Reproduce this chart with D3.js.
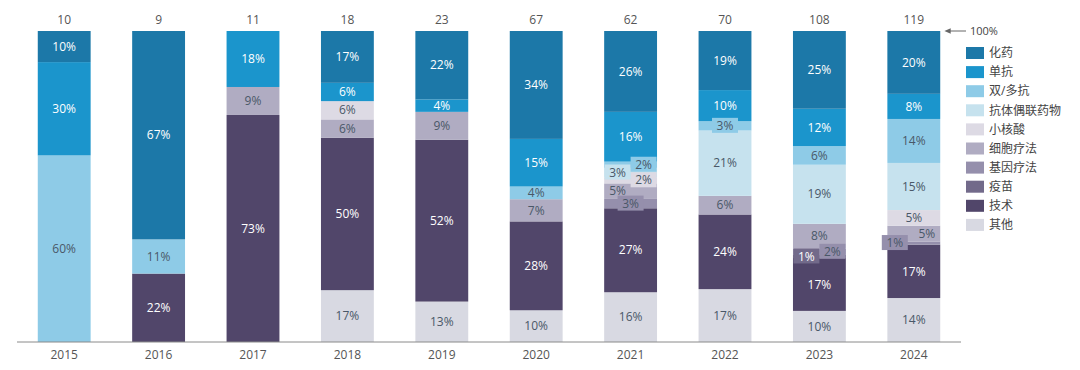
<!DOCTYPE html>
<html>
<head>
<meta charset="utf-8">
<script src="https://cdn.jsdelivr.net/npm/d3@7"></script>
<style>
  body { margin: 0; background: #fff; }
  svg text { font-family: "Open Sans", "Noto Sans CJK SC", sans-serif; }
</style>
</head>
<body>
<svg id="chart" width="1080" height="370"></svg>
<script>
// Data
const years = ['2015', '2016', '2017', '2018', '2019', '2020', '2021', '2022', '2023', '2024'];
const totals = [10, 9, 11, 18, 23, 67, 62, 70, 108, 119];
const seriesNames = ['化药', '单抗', '双/多抗', '抗体偶联药物', '小核酸', '细胞疗法', '基因疗法', '疫苗', '技术', '其他'];

const huaYao     = [10, 67, 0, 17, 22, 34, 26, 19, 25, 20];
const danKang    = [30, 0, 18, 6, 4, 15, 16, 10, 12, 8];
const shuangKang = [60, 11, 0, 0, 0, 4, 2, 3, 6, 14];
const adc        = [0, 0, 0, 0, 0, 0, 3, 21, 19, 15];
const xiaoHeSuan = [0, 0, 0, 6, 0, 0, 2, 0, 0, 5];
const xiBao      = [0, 0, 9, 6, 9, 7, 5, 6, 8, 5];
const jiYin      = [0, 0, 0, 0, 0, 0, 3, 0, 2, 1];
const yiMiao     = [0, 0, 0, 0, 0, 0, 0, 0, 1, 0];
const jiShu      = [0, 22, 73, 50, 52, 28, 27, 24, 17, 17];
const qiTa       = [0, 0, 0, 17, 13, 10, 16, 17, 10, 14];

const seriesValues = [huaYao, danKang, shuangKang, adc, xiaoHeSuan, xiBao, jiYin, yiMiao, jiShu, qiTa];

// Styles
const colors = ['#1c78a8', '#1b95cc', '#8ecbe7', '#c6e2ee', '#dddae4', '#b0acc2', '#958fac', '#726a8a', '#51466a', '#d8d9e2'];
const whiteText = new Set(['化药', '单抗', '疫苗', '技术']);
const darkText = '#4a5868';

// small labels pushed sideways so they don't overlap
const labelShift = {
    '2021|双/多抗': 13, '2021|抗体偶联药物': -13, '2021|小核酸': 13, '2021|细胞疗法': -13,
    '2023|基因疗法': 13, '2023|疫苗': -13,
    '2024|细胞疗法': 13, '2024|基因疗法': -19
};

const rows = years.map((y, i) => {
    const r = { year: y };
    seriesNames.forEach((s, j) => { r[s] = seriesValues[j][i]; });
    return r;
});

const svg = d3.select('#chart');

const x = d3.scaleBand()
    .domain(years)
    .range([17, 961])
    .paddingInner(0.44)
    .paddingOuter(0.22);

const y = d3.scaleLinear().domain([0, 1]).range([342, 31]);

const color = d3.scaleOrdinal().domain(seriesNames).range(colors);

// stack bottom-up: 其他 first, 化药 last; normalised to 100%
const stack = d3.stack()
    .keys(seriesNames.slice().reverse())
    .offset(d3.stackOffsetExpand);
const stacked = stack(rows);

// Bars
const layers = svg.append('g')
    .selectAll('g')
    .data(stacked)
    .enter().append('g')
    .attr('fill', d => color(d.key));

layers.selectAll('rect')
    .data(d => d.map(p => ({ key: d.key, year: p.data.year, y0: p[0], y1: p[1], v: p.data[d.key] })))
    .enter().append('rect')
    .filter(d => d.v > 0)
    .attr('x', d => x(d.year))
    .attr('width', x.bandwidth())
    .attr('y', d => y(d.y1))
    .attr('height', d => y(d.y0) - y(d.y1));

// Segment labels
const labels = [];
stacked.forEach(layer => {
    layer.forEach(p => {
        const v = p.data[layer.key];
        if (v > 0) labels.push({ key: layer.key, year: p.data.year, v: v, ym: (p[0] + p[1]) / 2 });
    });
});

const lab = svg.append('g')
    .selectAll('g')
    .data(labels)
    .enter().append('g')
    .attr('transform', d => {
        const dx = labelShift[d.year + '|' + d.key] || 0;
        return `translate(${x(d.year) + x.bandwidth() / 2 + dx},${y(d.ym)})`;
    });

lab.filter(d => d.v <= 3)
    .append('rect')
    .attr('x', -13)
    .attr('y', -8)
    .attr('width', 26)
    .attr('height', 15)
    .attr('fill', d => color(d.key));

lab.append('text')
    .text(d => d.v + '%')
    .attr('text-anchor', 'middle')
    .attr('dy', '0.35em')
    .attr('font-size', '12px')
    .attr('fill', d => whiteText.has(d.key) ? '#fff' : darkText);

// Baseline axis with year labels
const axis = svg.append('g').attr('transform', 'translate(0,342)');
axis.append('line')
    .attr('x1', 17).attr('x2', 961)
    .attr('stroke', '#8a8a8a').attr('stroke-width', 1);
axis.selectAll('text')
    .data(years)
    .enter().append('text')
    .attr('x', d => x(d) + x.bandwidth() / 2)
    .attr('y', 17)
    .attr('text-anchor', 'middle')
    .attr('font-size', '12px')
    .attr('fill', '#555')
    .text(d => d);

// Totals above bars
svg.append('g')
    .selectAll('text')
    .data(years)
    .enter().append('text')
    .attr('x', d => x(d) + x.bandwidth() / 2)
    .attr('y', 24)
    .attr('text-anchor', 'middle')
    .attr('font-size', '12px')
    .attr('fill', '#555')
    .text((d, i) => totals[i]);

// 100% marker arrow
svg.append('defs').append('marker')
    .attr('id', 'arr')
    .attr('viewBox', '0 0 10 10')
    .attr('refX', 1).attr('refY', 5)
    .attr('markerWidth', 7).attr('markerHeight', 7)
    .attr('orient', 'auto-start-reverse')
    .append('path')
    .attr('d', 'M0,1 L9,5 L0,9 z')
    .attr('fill', '#666');

svg.append('line')
    .attr('x1', 966).attr('x2', 950)
    .attr('y1', y(1)).attr('y2', y(1))
    .attr('stroke', '#666').attr('stroke-width', 1)
    .attr('marker-end', 'url(#arr)');

svg.append('text')
    .attr('x', 970)
    .attr('y', y(1))
    .attr('dy', '0.35em')
    .attr('font-size', '11px')
    .attr('fill', '#444')
    .text('100%');

// Legend
const legend = svg.append('g')
    .selectAll('g')
    .data(seriesNames)
    .enter().append('g')
    .attr('transform', (d, i) => `translate(966,${53 + i * 19.1})`);

legend.append('rect')
    .attr('x', 0).attr('y', -6)
    .attr('width', 18).attr('height', 12)
    .attr('fill', d => color(d));

legend.append('text')
    .attr('x', 23)
    .attr('dy', '0.35em')
    .attr('font-size', '12px')
    .attr('fill', '#444')
    .text(d => d);
</script>
</body>
</html>
